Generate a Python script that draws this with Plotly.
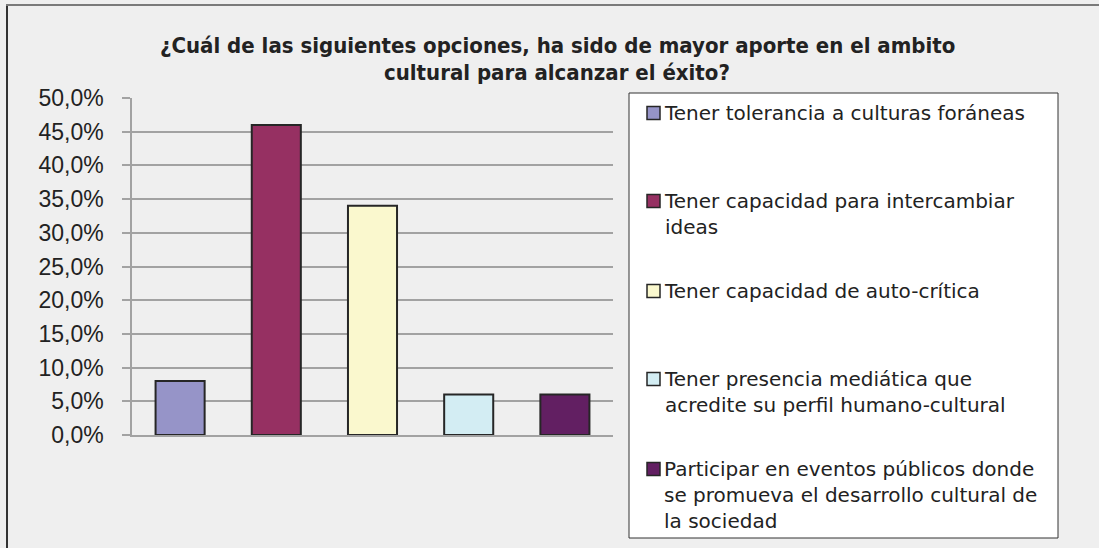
import textwrap
import plotly.graph_objects as go

# ---------------- data ----------------
categories = [
    "Tener tolerancia a culturas foráneas",
    "Tener capacidad para intercambiar ideas",
    "Tener capacidad de auto-crítica",
    "Tener presencia mediática que acredite su perfil humano-cultural",
    "Participar en eventos públicos donde se promueva el desarrollo cultural de la sociedad",
]
values = [0.08, 0.46, 0.34, 0.06, 0.06]
colors = ["#9694C8", "#963062", "#FAF8CE", "#D3EDF3", "#621F62"]
tick_values = [0.0, 0.05, 0.10, 0.15, 0.20, 0.25, 0.30, 0.35, 0.40, 0.45, 0.50]
title_lines = [
    "¿Cuál de las siguientes opciones, ha sido de mayor aporte en el ambito",
    "cultural para alcanzar el éxito?",
]

# ---------------- layout geometry (pixels) ----------------
W, H = 1099, 548
PL, PR, PT, PB = 132, 613, 98, 435  # plot area edges


def px(x):
    return (x - PL) / (PR - PL)


def py(y):
    return (PB - y) / (PB - PT)


BG = "#EFEFEF"
GRID = "#A2A2A2"
TEXT = "#222222"

fig = go.Figure()
for i, (cat, val, col) in enumerate(zip(categories, values, colors)):
    fig.add_trace(go.Bar(
        x=[i], y=[val], name=cat, width=0.51,
        marker=dict(color=col, line=dict(color="#262626", width=2)),
        showlegend=False,
        hovertemplate="%{y:.1%}<extra>" + cat + "</extra>",
    ))

shapes = []
annotations = []

# outer frame (left and top edges visible)
shapes.append(dict(type="line", xref="paper", yref="paper",
                   x0=px(7), x1=px(7), y0=py(5), y1=py(H + 5),
                   line=dict(color="#333333", width=2)))
shapes.append(dict(type="line", xref="paper", yref="paper",
                   x0=px(6), x1=px(W + 5), y0=py(5), y1=py(5),
                   line=dict(color="#7A7A7A", width=2)))

# legend box
shapes.append(dict(type="rect", xref="paper", yref="paper",
                   x0=px(629), x1=px(1058), y0=py(93), y1=py(538),
                   fillcolor="white", line=dict(color="#333333", width=1), layer="below"))

legend_line_centers = [113, 201, 291, 379, 469]
for cat, col, yc in zip(categories, colors, legend_line_centers):
    shapes.append(dict(type="rect", xref="paper", yref="paper",
                       x0=px(647), x1=px(660), y0=py(yc - 6.5), y1=py(yc + 6.5),
                       fillcolor=col, line=dict(color="#262626", width=1.5)))
    lines = textwrap.wrap(cat, width=37, break_on_hyphens=False)
    annotations.append(dict(
        xref="paper", yref="paper", x=px(662), y=py(yc - 14),
        xanchor="left", yanchor="top", align="left", showarrow=False,
        text="<br>".join(lines),
        font=dict(family="DejaVu Sans", size=20, color=TEXT),
    ))

# title (two lines, tighter spacing than plotly's default)
for line, yc in zip(title_lines, [45, 72]):
    annotations.append(dict(
        xref="paper", yref="paper", x=px(557), y=py(yc),
        xanchor="center", yanchor="middle", showarrow=False, text="<b>" + line + "</b>",
        font=dict(family="DejaVu Sans Condensed, sans-serif", size=22, color=TEXT),
    ))

fig.update_layout(
    width=W, height=H,
    margin=dict(l=PL, r=W - PR, t=PT, b=H - PB, pad=0),
    paper_bgcolor=BG, plot_bgcolor=BG,
    separators=",.",
    barmode="overlay",
    shapes=shapes,
    annotations=annotations,
    font=dict(family="Liberation Sans, Arial, sans-serif", color=TEXT),
    xaxis=dict(range=[-0.5, 4.5], showticklabels=False, showgrid=False, zeroline=False,
               showline=True, linecolor=GRID, linewidth=1.5, ticks=""),
    yaxis=dict(range=[0, 0.5], tickvals=tick_values, tickformat=".1%",
               showgrid=True, gridcolor=GRID, gridwidth=1.5, zeroline=False,
               showline=True, linecolor=GRID, linewidth=1.5,
               ticks="outside", ticklen=8, tickcolor=GRID, tickwidth=1.5,
               ticklabelstandoff=14,
               tickfont=dict(family="Liberation Sans, Arial, sans-serif", size=23, color=TEXT)),
)

fig.write_html("out.html",
               config={"displayModeBar": False},
               post_script="document.body.style.margin='0';document.body.style.overflow='hidden';")
